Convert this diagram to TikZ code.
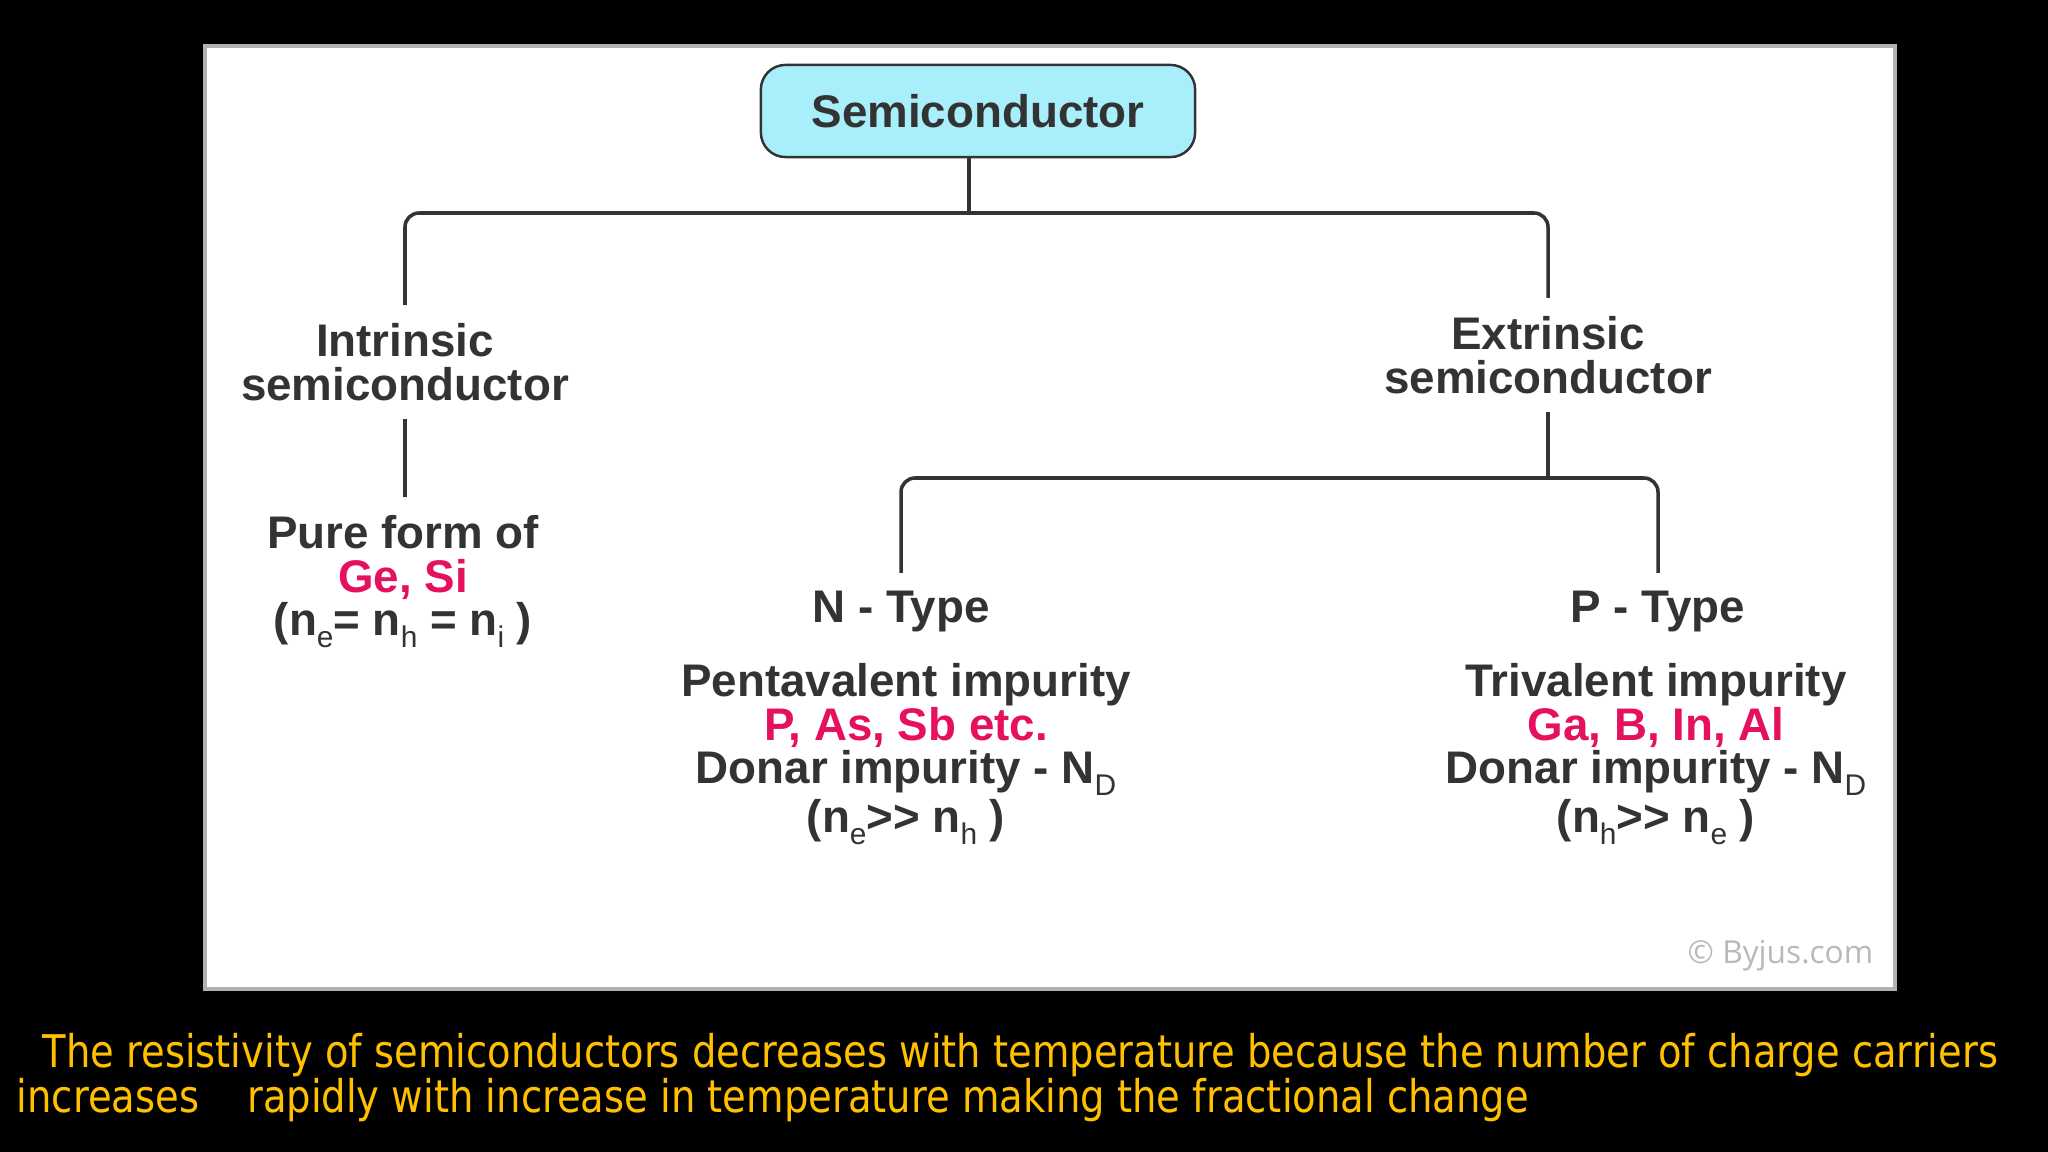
\documentclass[tikz,border=0pt]{standalone}
\usepackage{fontspec}
\usepackage{graphicx}
\setmainfont{Liberation Sans}
\newfontfamily\slidefont{DejaVu Sans}
\newfontfamily\markfont{Open Sans}
\definecolor{ink}{HTML}{333333}
\definecolor{accent}{HTML}{E5105E}
\definecolor{boxfill}{HTML}{A8EEFB}
\definecolor{slidetext}{HTML}{FFC000}
\newcommand{\carrier}[1]{\raisebox{-0.5ex}{\fontsize{8.5}{8.5}\selectfont\mdseries #1}}
\newcommand{\much}{\mbox{>}\mbox{>}}
\tikzset{
	conn/.style={draw=ink, line width=1pt, rounded corners=4pt},
	lbl/.style={text=ink, font=\bfseries\fontsize{13}{12.4}\selectfont, align=center, inner sep=5pt, anchor=north},
	topbox/.style={draw=ink, fill=boxfill, rounded corners=7pt, line width=0.7pt, minimum width=123.5pt, minimum height=26.2pt, text=ink, font=\bfseries\fontsize{13}{13}\selectfont}
}
\begin{document}
\begin{tikzpicture}[x=0.01cm, y=-0.01cm]
	\useasboundingbox (0,0) rectangle (2048,1152);
	\fill[black] (0,0) rectangle (2048,1152);
	% panel
	\draw[fill=white, draw=gray!60, line width=1pt] (205,46) rectangle (1895,989);
	% tree
	\node[topbox] (semi) at (978,111) {Semiconductor};
	\node[lbl] (intr) at (405,305) {Intrinsic\\semiconductor};
	\node[lbl] (extr) at (1548,298) {Extrinsic\\semiconductor};
	\node[lbl] (pure) at (403,497) {Pure form of\\\textcolor{accent}{Ge, Si}\\(n\carrier{e}= n\carrier{h} = n\carrier{i} )};
	\node[lbl] (ntype) at (901,573) {N - Type};
	\node[lbl] (ptype) at (1658,573) {P - Type};
	\node[lbl] (ninfo) at (906,645) {Pentavalent impurity\\\textcolor{accent}{P, As, Sb etc.}\\Donar impurity - N\carrier{D}\\(n\carrier{e}\much{} n\carrier{h} )};
	\node[lbl] (pinfo) at (1656,645) {Trivalent impurity\\\textcolor{accent}{Ga, B, In, Al}\\Donar impurity - N\carrier{D}\\(n\carrier{h}\much{} n\carrier{e} )};
	\coordinate (bus1) at (969,213);
	\coordinate (bus2) at (1548,478);
	\draw[conn] (bus1 |- semi.south) -- (bus1);
	\draw[conn] (intr.north) |- (bus1) -| (extr.north);
	\draw[conn] (intr.south) -- (intr.south |- pure.north);
	\draw[conn] (extr.south) -- (bus2);
	\draw[conn] (ntype.north) |- (bus2) -| (ptype.north);
	% credit
	\node[anchor=east, text=gray!55, font=\markfont\fontsize{9}{10}\selectfont, inner sep=0pt] (credit) at (1874,956) {© Byjus.com};
	% slide caption
	\node[anchor=west, text=slidetext, inner sep=0pt, font=\slidefont\fontsize{12.8}{14}\selectfont] (cap1) at (42,1055)
		{\resizebox{556pt}{\height}{The resistivity of semiconductors decreases with temperature because the number of charge carriers}};
	\node[anchor=west, text=slidetext, inner sep=0pt, font=\slidefont\fontsize{12.8}{14}\selectfont] (cap2) at (16,1100)
		{\resizebox{430pt}{\height}{increases\hspace{16pt}rapidly with increase in temperature making the fractional change}};
\end{tikzpicture}
\end{document}
